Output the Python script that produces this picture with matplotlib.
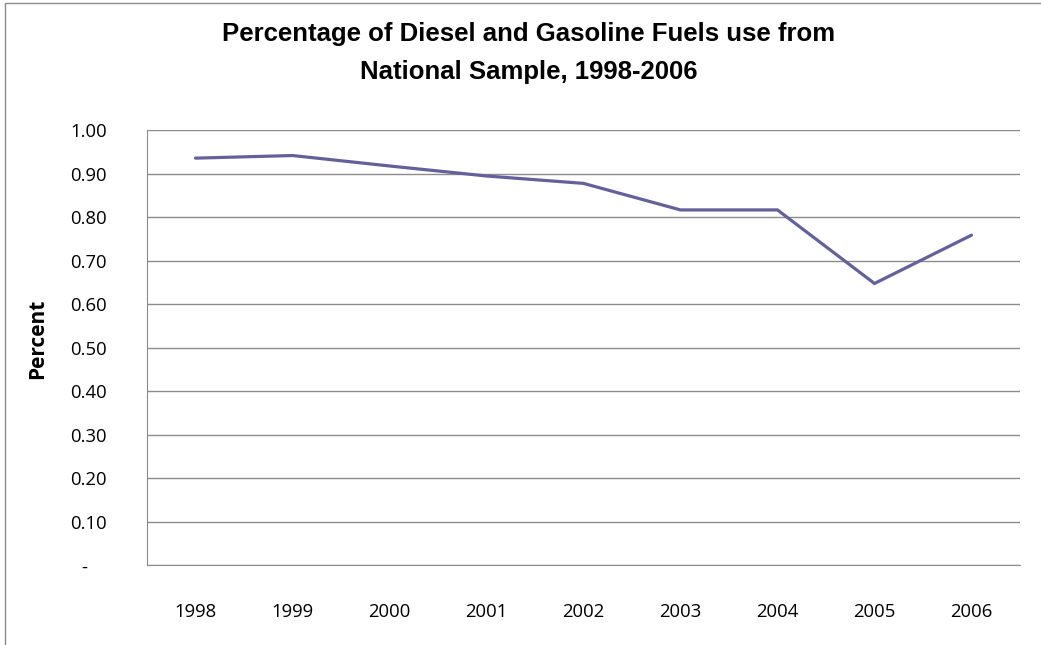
import matplotlib
matplotlib.use('Agg')
import matplotlib.pyplot as plt
from matplotlib.patches import Rectangle
from matplotlib.transforms import ScaledTranslation

years = ['1998', '1999', '2000', '2001', '2002', '2003', '2004', '2005', '2006']
share = [0.936, 0.942, 0.918, 0.895, 0.878, 0.817, 0.817, 0.648, 0.759]
y_ticks = [0.0, 0.1, 0.2, 0.3, 0.4, 0.5, 0.6, 0.7, 0.8, 0.9, 1.0]
y_labels = ['-', '0.10', '0.20', '0.30', '0.40', '0.50', '0.60', '0.70', '0.80', '0.90', '1.00']

LINE = '#62619B'
GRID = '#8C8C8C'
TICK_FONT = ['Open Sans', 'DejaVu Sans']

fig = plt.figure(figsize=(10.41, 6.45), dpi=100)
ax = fig.add_axes([0.1412, 0.1233, 0.8386, 0.6747])

x = range(len(years))
ax.plot(x, share, color=LINE, lw=2.3, solid_capstyle='round', solid_joinstyle='miter')

ax.set_xlim(-0.5, len(years) - 0.5)
ax.set_ylim(0, 1.0)
ax.set_yticks(y_ticks)
ax.set_yticklabels(y_labels, fontsize=13.3, family=TICK_FONT)
ax.set_xticks(list(x))
ax.set_xticklabels(years, fontsize=13.3, family=TICK_FONT)
ax.tick_params(length=0)
ax.tick_params(axis='y', pad=29)
ax.tick_params(axis='x', pad=27)

# accounting-style dash for zero sits further left
zero_lbl = ax.get_yticklabels()[0]
zero_lbl.set_transform(zero_lbl.get_transform() + ScaledTranslation(-0.19, 0, fig.dpi_scale_trans))

ax.grid(axis='y', color=GRID, lw=1.0)
ax.set_axisbelow(True)
for side in ['top', 'right']:
    ax.spines[side].set_visible(False)
ax.spines['left'].set_color(GRID)
ax.spines['bottom'].set_color(GRID)

ax.set_ylabel('Percent', fontsize=15, fontweight='bold', family=TICK_FONT)
ax.yaxis.set_label_coords(-0.125, 0.52)
ax.yaxis.label.set_va('center')

fig.text(0.508, 0.948, 'Percentage of Diesel and Gasoline Fuels use from',
         ha='center', va='center', fontsize=18.5, fontweight='bold', family='Liberation Sans')
fig.text(0.508, 0.888, 'National Sample, 1998-2006',
         ha='center', va='center', fontsize=18.5, fontweight='bold', family='Liberation Sans')

# chart border (partly visible on top and left)
fig.patches.append(Rectangle((5 / 1041, -0.1), 1.2, 1.1 - 3 / 645, transform=fig.transFigure,
                             fill=False, edgecolor='#8C8C8C', lw=1.0))

fig.savefig('out.png', dpi=100)
